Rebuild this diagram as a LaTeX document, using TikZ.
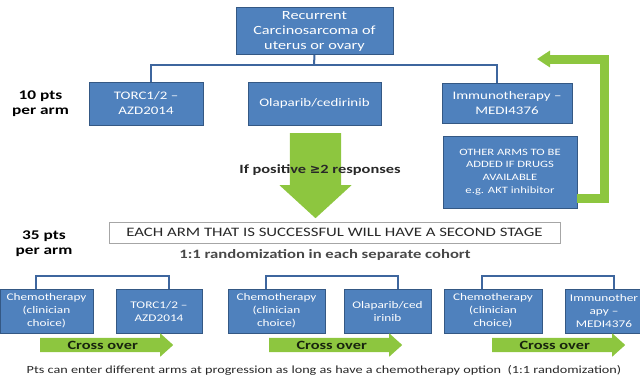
\documentclass[tikz,border=0pt]{standalone}
\usepackage{fontspec}
\setmainfont{Carlito}[FakeStretch=1.3]
\newfontfamily\symbfont{DejaVu Sans}
\usetikzlibrary{shapes.arrows,arrows.meta}

\definecolor{boxblue}{RGB}{79,129,189}
\definecolor{boxedge}{RGB}{52,88,132}
\definecolor{barblue}{RGB}{62,102,158}
\definecolor{armgreen}{RGB}{141,198,63}
\definecolor{darkink}{RGB}{40,40,40}
\definecolor{crossink}{RGB}{24,36,14}

\begin{document}
\begin{tikzpicture}[x=1pt,y=-1pt,
    box/.style={rectangle, draw=boxedge, line width=0.8pt, fill=boxblue, text=white, align=center, inner sep=0pt},
    bracket/.style={draw=barblue, line width=2pt},
    armlabel/.style={align=center, text=black, font=\fontsize{13.3}{15}\selectfont\bfseries},
    crossarrow/.style={single arrow, fill=armgreen, anchor=tail, minimum height=133, minimum width=23,
      single arrow head extend=4.5pt, single arrow tip angle=84, inner xsep=0pt, inner ysep=2pt,
      text height=9pt, text depth=1pt, text=crossink, font=\fontsize{12.6}{14}\selectfont\bfseries},
    loopback/.style={draw=armgreen, line width=9pt, line join=miter, -{Triangle[length=13pt,width=16pt]}}]

  \useasboundingbox (0,0) rectangle (640,378);

  %% first stage
  \node (Top) [box, minimum width=157, minimum height=47, font=\fontsize{12.5}{15}\selectfont] at (314.5,31) {Recurrent\\Carcinosarcoma of\\uterus or ovary};

  \node (Torc) [box, minimum width=114, minimum height=43, font=\fontsize{11.5}{15}\selectfont] at (146,103.5) {TORC1/2 --\\AZD2014};
  \node (Olap) [box, minimum width=133, minimum height=43, font=\fontsize{11.5}{15}\selectfont] at (314.5,103.5) {Olaparib/cedirinib};
  \node (Imm) [box, minimum width=130, minimum height=40, font=\fontsize{11.5}{15}\selectfont] at (507,103) {Immunotherapy --\\MEDI4376};
  \node (Other) [box, minimum width=134, minimum height=72, font=\fontsize{9.7}{12.7}\selectfont] at (510,172) {OTHER ARMS TO BE\\ADDED IF DRUGS\\AVAILABLE\\e.g. AKT inhibitor};

  \node (Ten) [armlabel] at (40.5,103.5) {10 pts\\per arm};

  \coordinate (Bar) at (314,65);
  \draw[bracket] (Top.south) -- (Bar);
  \draw[bracket] ([xshift=5]Torc.north) |- (Bar) -| ([xshift=-10]Imm.north);

  %% loop back for new arms
  \coordinate (Corner) at (604,59);
  \coordinate (Back) at (537,59);
  \draw[loopback] (Other.east |- 0,198) -| (Corner) -- (Back);

  %% go on to second stage
  \node (Down) [single arrow, fill=armgreen, rotate=-90, anchor=tail, minimum height=85, minimum width=72,
    single arrow tip angle=95, inner xsep=0pt, inner ysep=17.5pt] at (315.5,133) {};
  \node (IfPos) [font=\fontsize{12.6}{14}\selectfont\bfseries, text=darkink] at (320,170) {If positive {\symbfont ≥}2 responses};

  \node (Each) [rectangle, draw=gray!70, line width=0.8pt, fill=white, minimum width=451, minimum height=21,
    text=darkink, font=\fontsize{12.9}{14}\selectfont] at (334.5,232.5) {EACH ARM THAT IS SUCCESSFUL WILL HAVE A SECOND STAGE};
  \node (Rand) [font=\fontsize{12.8}{14}\selectfont\bfseries, text=darkink!85] at (325,255) {1:1 randomization in each separate cohort};

  \node (ThirtyFive) [armlabel] at (44,244) {35 pts\\per arm};

  %% second stage
  \node (C1) [box, minimum width=93, minimum height=44, font=\fontsize{10.2}{13}\selectfont] at (46.5,311) {Chemotherapy\\(clinician\\choice)};
  \node (T2) [box, minimum width=86, minimum height=44, font=\fontsize{10.2}{13}\selectfont] at (159,311) {TORC1/2 --\\AZD2014};
  \node (C3) [box, minimum width=97, minimum height=44, font=\fontsize{10.2}{13}\selectfont] at (276.5,311) {Chemotherapy\\(clinician\\choice)};
  \node (O4) [box, minimum width=87, minimum height=44, font=\fontsize{10.2}{13}\selectfont] at (387.5,311) {Olaparib/ced\\irinib};
  \node (C5) [box, minimum width=98, minimum height=44, font=\fontsize{10.2}{13}\selectfont] at (493,311) {Chemotherapy\\(clinician\\choice)};
  \node (I6) [box, minimum width=78, minimum height=44, font=\fontsize{10.2}{13}\selectfont] at (604,311) {Immunother\\apy --\\MEDI4376};

  \foreach \a/\b in {C1/T2,C3/O4,C5/I6}
    \draw[bracket] ([xshift=-11]\a.north) -- ++(0,-13) -| ([xshift=10]\b.north);

  \node (X1) [crossarrow] at (40,345) {Cross over};
  \node (X2) [crossarrow] at (269,345) {Cross over};
  \node (X3) [crossarrow] at (492,345) {Cross over};

  \node (Note) [font=\fontsize{10.95}{13}\selectfont, text=darkink] at (324,370) {Pts can enter different arms at progression as long as have a chemotherapy option~~(1:1 randomization)};

\end{tikzpicture}
\end{document}
